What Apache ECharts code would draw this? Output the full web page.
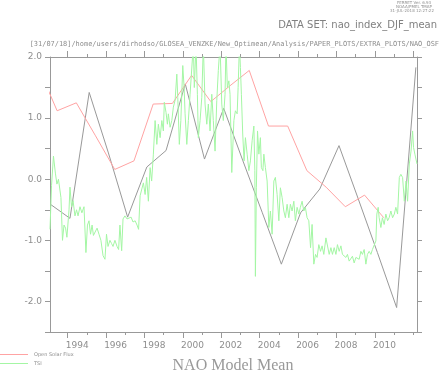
<!DOCTYPE html>
<html>
<head>
<meta charset="utf-8">
<script src="https://cdn.jsdelivr.net/npm/echarts@6/dist/echarts.min.js"></script>
<style>
html, body { margin: 0; padding: 0; background: #fff; }
#chart { width: 441px; height: 373px; }
</style>
</head>
<body>
<div id="chart"></div>
<script>
// NAO model mean, one value per winter
const naoYears = [1993.1, 1994.12, 1995.12, 1996.12, 1997.12, 1998.12, 1999.12, 2000.12, 2001.12, 2002.12,
  2003.12, 2004.12, 2005.12, 2006.12, 2007.12, 2008.12, 2009.12, 2010.12, 2011.12, 2012.12];
const naoValues = [-0.41, -0.64, 1.42, 0.43, -0.62, 0.2, 0.47, 1.56, 0.33, 1.16,
  0.3, -0.54, -1.39, -0.55, -0.16, 0.55, -0.32, -1.2, -2.1, 1.83];

// Open Solar Flux, yearly
const osfYears = [1992.45, 1993.45, 1994.45, 1995.45, 1996.45, 1997.45, 1998.45, 1999.45, 2000.45, 2001.45,
  2002.45, 2003.45, 2004.45, 2005.45, 2006.45, 2007.45, 2008.45, 2009.45, 2010.45];
const osfValues = [1.85, 1.12, 1.25, 0.71, 0.16, 0.30, 1.23, 1.24, 1.70, 1.27,
  1.53, 1.78, 0.87, 0.87, 0.14, -0.13, -0.45, -0.26, -0.63];

// TSI, roughly monthly
const tsiYears = [
  1993.08, 1993.16, 1993.26, 1993.36, 1993.44, 1993.52, 1993.60, 1993.65, 1993.73, 1993.81, 1993.89, 1993.96,
  1994.07, 1994.12, 1994.20, 1994.28, 1994.38, 1994.46, 1994.54, 1994.64, 1994.74, 1994.85, 1994.95,
  1995.03, 1995.11, 1995.19, 1995.27, 1995.34, 1995.42, 1995.53, 1995.63, 1995.73, 1995.84, 1995.94,
  1996.02, 1996.10, 1996.20, 1996.28, 1996.36, 1996.46, 1996.57, 1996.65, 1996.72, 1996.81, 1996.88, 1996.98,
  1997.09, 1997.19, 1997.30, 1997.40, 1997.51, 1997.61, 1997.69, 1997.77, 1997.85, 1997.94,
  1998.03, 1998.11, 1998.20, 1998.29, 1998.37, 1998.46, 1998.55, 1998.64, 1998.72, 1998.81, 1998.90, 1998.98,
  1999.03, 1999.12, 1999.19, 1999.24, 1999.33, 1999.42, 1999.50, 1999.59, 1999.68, 1999.73, 1999.81, 1999.89, 1999.99,
  2000.06, 2000.11, 2000.20, 2000.28, 2000.37, 2000.46, 2000.54, 2000.59, 2000.68, 2000.75, 2000.80, 2000.89, 2000.98,
  2001.06, 2001.15, 2001.24, 2001.32, 2001.41, 2001.50, 2001.58, 2001.67, 2001.76, 2001.84, 2001.93,
  2002.02, 2002.10, 2002.19, 2002.24, 2002.31, 2002.39, 2002.45, 2002.54, 2002.65, 2002.73, 2002.82, 2002.87, 2002.94, 2002.99,
  2003.04, 2003.11, 2003.18, 2003.25, 2003.34, 2003.43, 2003.51, 2003.60, 2003.69, 2003.74, 2003.77, 2003.82, 2003.88, 2003.95,
  2004.03, 2004.08, 2004.16, 2004.21, 2004.29, 2004.38, 2004.47, 2004.55, 2004.64, 2004.73, 2004.81, 2004.90, 2004.99,
  2005.07, 2005.16, 2005.25, 2005.33, 2005.42, 2005.51, 2005.59, 2005.68, 2005.77, 2005.85, 2005.94,
  2006.03, 2006.11, 2006.20, 2006.29, 2006.37, 2006.46, 2006.55, 2006.64, 2006.72, 2006.81, 2006.90, 2006.98,
  2007.07, 2007.16, 2007.24, 2007.33, 2007.44, 2007.52, 2007.61, 2007.70, 2007.78, 2007.87, 2007.96,
  2008.04, 2008.13, 2008.22, 2008.30, 2008.39, 2008.48, 2008.56, 2008.65, 2008.74, 2008.82, 2008.91, 2009.00,
  2009.08, 2009.17, 2009.26, 2009.34, 2009.43, 2009.52, 2009.60, 2009.69, 2009.78, 2009.86, 2009.95,
  2010.04, 2010.09, 2010.16, 2010.21, 2010.30, 2010.38, 2010.47, 2010.56, 2010.65, 2010.73, 2010.82, 2010.91,
  2011.00, 2011.08, 2011.17, 2011.26, 2011.34, 2011.43, 2011.52, 2011.61, 2011.69, 2011.78, 2011.87, 2011.95,
  2012.00, 2012.07, 2012.12, 2012.18
];
const tsiValues = [
  -0.82, -0.10, 0.38, 0.10, -0.08, 0.00, 0.03, -0.30, -1.00, -0.75, -0.80, -0.95,
  -0.50, -0.13, -0.45, -0.35, -0.60, -0.50, -0.60, -0.45, -0.55, -0.45, -1.20,
  -0.75, -0.68, -0.90, -0.75, -0.92, -0.95, -0.80, -0.90, -1.00, -1.25, -1.31,
  -0.90, -1.10, -1.00, -1.05, -1.10, -1.00, -1.10, -1.15, -0.75, -1.17, -0.65, -0.60,
  -0.65, -0.62, -0.62, -0.70, -0.68, -0.75, -0.82, -0.27, -0.25, -0.06,
  -0.25, 0.03, -0.36, 0.19, -0.03, 0.41, 0.96, 0.57, 0.90, 0.68, 0.96, 0.79,
  1.26, 1.09, 0.90, 1.07, 0.85, 0.96, 1.18, 1.29, 1.72, 1.34, 0.57, 0.96, 1.86,
  1.50, 1.07, 0.57, 0.96, 1.39, 1.39, 2.2, 1.50, 2.2, 1.39, 0.68, 0.96, 1.34,
  2.2, 1.23, 0.90, 1.23, 0.79, 1.39, 0.96, 0.46, 1.29, 1.78, 2.2,
  1.23, 0.96, 1.39, 2.2, 1.50, 1.61, 1.39, 0.11, 0.96, 1.12, 1.07, 1.50, 2.2, 1.83,
  1.39, 0.74, 0.30, 0.68, 0.41, 0.14, 0.30, 0.63, 0.87, 0.14, -1.59, -0.14, 0.79, 0.41,
  0.68, 0.19, 0.14, 0.41, 0.19, -0.03, -0.79, -0.52, -0.90, -0.03, 0.03, -0.25, -0.68,
  -0.14, -0.30, -0.52, -0.63, -0.41, -0.63, -0.41, -0.52, -0.36, -0.68, -0.46,
  -0.57, -0.46, -0.36, -0.52, -0.46, -0.63, -0.68, -1.12, -0.74, -1.39, -1.23, -1.28,
  -1.07, -1.18, -1.09, -1.23, -0.96, -0.98, -1.23, -1.12, -1.23, -1.12, -1.23,
  -1.07, -1.18, -1.09, -1.23, -1.26, -1.28, -1.23, -1.34, -1.31, -1.26, -1.37, -1.28,
  -1.26, -1.31, -1.18, -1.23, -1.15, -1.39, -1.23, -1.18, -1.23, -1.15, -1.12,
  -1.01, -0.57, -0.46, -0.63, -0.79, -0.63, -0.74, -0.57, -0.68, -0.63, -0.52, -0.63,
  -0.57, -0.46, -0.57, 0.03, 0.08, 0.03, -0.36, -0.03, -0.36, 0.25, 0.46, 0.79,
  0.52, 0.41, 0.41, 0.25
];

const xMin = 1993.08, xMax = 2012.18;
const yMin = -2.5, yMax = 2.0;

const grey = "#999999";
const txt = "#8e8e8e";
const pink = "#ffa3a3";
const lightGreen = "#a4f6a4";
const pairs = (xs, ys) => xs.map((x, i) => [x, ys[i]]);

// plain frame axis (line only)
function frameX(pos) {
  return {
    gridIndex: 0, type: "value", min: xMin, max: xMax, position: pos,
    axisLine: { show: true, onZero: false, lineStyle: { color: grey, width: 1 } },
    axisTick: { show: false }, axisLabel: { show: false }, splitLine: { show: false },
  };
}
// year ticks, on a second grid that runs 1994 .. 2012
function yearTicks(pos, step, len, labels) {
  return {
    gridIndex: 1, type: "value", min: 1994, max: 2012, interval: step, position: pos,
    axisLine: { show: false, onZero: false },
    axisTick: { show: true, length: len, lineStyle: { color: grey } },
    axisLabel: labels
      ? {
          show: true, color: txt, fontSize: 9, fontFamily: "DejaVu Sans", margin: 9,
          padding: [0, 0, 0, 19], // centre label on the middle of the year
          showMinLabel: true, showMaxLabel: false,
          formatter: (v) => (v < 2012 ? String(v) : ""),
        }
      : { show: false },
    splitLine: { show: false },
  };
}
function frameY(pos, labels) {
  return {
    gridIndex: 0, type: "value", min: yMin, max: yMax, interval: 0.5, position: pos,
    axisLine: { show: true, onZero: false, lineStyle: { color: grey, width: 1 } },
    axisTick: { show: true, length: 5, lineStyle: { color: grey } },
    axisLabel: labels
      ? {
          show: true, color: txt, fontSize: 9, fontFamily: "DejaVu Sans", margin: 8,
          formatter: (v) => (Math.abs(v - Math.round(v)) < 1e-6 ? v.toFixed(1) : ""),
        }
      : { show: false },
    splitLine: { show: false },
  };
}

const chart = echarts.init(document.getElementById("chart"));
chart.setOption({
  animation: false,
  backgroundColor: "#fff",
  grid: [
    { left: 50, right: 24, top: 57, bottom: 41 },
    { left: 67.7, right: 27.7, top: 57, bottom: 41 },
  ],
  xAxis: [
    frameX("bottom"),
    frameX("top"),
    yearTicks("bottom", 1, 3, false),
    yearTicks("bottom", 2, 6, true),
    yearTicks("top", 1, 3, false),
    yearTicks("top", 2, 6, false),
  ],
  yAxis: [
    frameY("left", true),
    frameY("right", false),
    { gridIndex: 1, type: "value", min: 0, max: 1, show: false },
  ],
  series: [
    {
      name: "NAO", type: "line", xAxisIndex: 0, yAxisIndex: 0,
      data: pairs(naoYears, naoValues), showSymbol: false, clip: true,
      lineStyle: { color: "#999999", width: 1 },
    },
    {
      name: "Open Solar Flux", type: "line", xAxisIndex: 0, yAxisIndex: 0,
      data: pairs(osfYears, osfValues), showSymbol: false, clip: true,
      lineStyle: { color: pink, width: 1 },
    },
    {
      name: "TSI", type: "line", xAxisIndex: 0, yAxisIndex: 0,
      data: pairs(tsiYears, tsiValues), showSymbol: false, clip: true,
      lineStyle: { color: lightGreen, width: 1 },
    },
  ],
  graphic: [
    { type: "text", x: 414, y: 3, style: { text: "FERRET Ver. 6.93", font: "4px DejaVu Sans", fill: txt, align: "center", verticalAlign: "middle" } },
    { type: "text", x: 414, y: 7, style: { text: "NOAA/PMEL TMAP", font: "4px DejaVu Sans", fill: txt, align: "center", verticalAlign: "middle" } },
    { type: "text", x: 412, y: 11, style: { text: "31-JUL-2018 12:27:22", font: "4px DejaVu Sans", fill: txt, align: "center", verticalAlign: "middle" } },
    { type: "text", x: 437, y: 25, style: { text: "DATA SET: nao_index_DJF_mean", font: "10px DejaVu Sans", fill: "#808080", align: "right", verticalAlign: "middle" } },
    { type: "text", x: 439, y: 44, style: { text: "[31/07/18]/home/users/dirhodso/GLOSEA_VENZKE/New_Optimean/Analysis/PAPER_PLOTS/EXTRA_PLOTS/NAO_OSF", font: "6.95px DejaVu Sans Mono", fill: txt, align: "right", verticalAlign: "middle" } },
    { type: "line", shape: { x1: 0, y1: 354.5, x2: 28, y2: 354.5 }, style: { stroke: pink, lineWidth: 1 } },
    { type: "text", x: 34, y: 354.5, style: { text: "Open Solar Flux", font: "5px DejaVu Sans", fill: txt, align: "left", verticalAlign: "middle" } },
    { type: "line", shape: { x1: 0, y1: 363.5, x2: 28, y2: 363.5 }, style: { stroke: lightGreen, lineWidth: 1 } },
    { type: "text", x: 34, y: 363.5, style: { text: "TSI", font: "5px DejaVu Sans", fill: txt, align: "left", verticalAlign: "middle" } },
    { type: "text", x: 233, y: 366, style: { text: "NAO Model Mean", font: "16px Liberation Serif", fill: "#999999", align: "center", verticalAlign: "middle" } },
  ],
});
</script>
</body>
</html>
